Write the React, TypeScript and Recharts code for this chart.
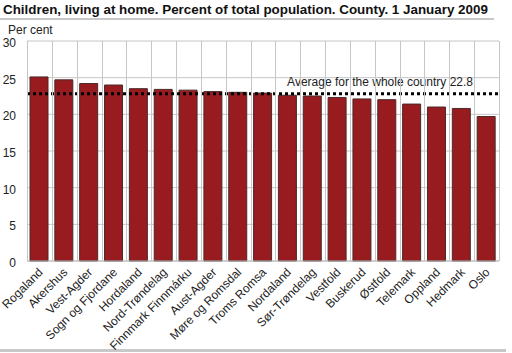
import { Bar, BarChart, CartesianGrid, ReferenceLine, XAxis, YAxis } from "recharts";

const COUNTIES = [
  "Rogaland",
  "Akershus",
  "Vest-Agder",
  "Sogn og Fjordane",
  "Hordaland",
  "Nord-Trøndelag",
  "Finnmark Finnmárku",
  "Aust-Agder",
  "Møre og Romsdal",
  "Troms Romsa",
  "Nordaland",
  "Sør-Trøndelag",
  "Vestfold",
  "Buskerud",
  "Østfold",
  "Telemark",
  "Oppland",
  "Hedmark",
  "Oslo",
];

const SHARE = [
  25.1, 24.7, 24.2, 24.0, 23.5, 23.4, 23.3, 23.1, 23.0, 22.9, 22.6, 22.5, 22.3,
  22.1, 22.0, 21.4, 21.0, 20.8, 19.7,
];

const Y_TICKS = [0, 5, 10, 15, 20, 25, 30];
const AVERAGE = 22.8;
const AVERAGE_LABEL = "Average for the whole country 22.8";
const TITLE =
  "Children, living at home. Percent of total population. County. 1 January 2009";

const FONT = "'Liberation Sans', Arial, sans-serif";
const GRID = "#c6c6c6";

// chart layout
const CHART_W = 512;
const CHART_H = 353;
const MARGIN = { top: 41, right: 13, left: 0, bottom: 0 };
const Y_AXIS_W = 27;
const X_AXIS_H = 92;
const PLOT_W = CHART_W - MARGIN.left - MARGIN.right - Y_AXIS_W;
const PLOT_H = CHART_H - MARGIN.top - MARGIN.bottom - X_AXIS_H;
const HALF_BAND = PLOT_W / COUNTIES.length / 2;

const data = COUNTIES.map((county, i) => ({ county, share: SHARE[i] }));

const crisp = (v: number) => Math.round(v) + 0.5;

// vertical grid sits on the band edges, between the bars
const bandEdges = ({ offset }: any) =>
  [...COUNTIES.map((_, i) => i), COUNTIES.length].map((i) =>
    crisp(offset.left + (i * offset.width) / COUNTIES.length),
  );

function CountyTick({ x, y, index, payload }: any) {
  const left = crisp(x - HALF_BAND);
  const right = crisp(x + HALF_BAND);
  return (
    <g>
      <line x1={left} x2={left} y1={y} y2={y - PLOT_H} stroke={GRID} />
      {index === COUNTIES.length - 1 && (
        <line x1={right} x2={right} y1={y} y2={y - PLOT_H} stroke={GRID} />
      )}
      <text
        x={x + 4}
        y={y + 12}
        transform={`rotate(-45, ${x + 4}, ${y + 12})`}
        textAnchor="end"
        fontSize={12}
        fill="#222"
        fontFamily={FONT}
      >
        {payload.value}
      </text>
    </g>
  );
}

function ValueTick({ x, y, payload }: any) {
  return (
    <text
      x={x}
      y={y + 6}
      textAnchor="end"
      fontSize={12}
      fill="#222"
      fontFamily={FONT}
    >
      {payload.value}
    </text>
  );
}

function AverageLabel({ viewBox }: any) {
  if (!viewBox) return null;
  return (
    <text
      x={viewBox.x + viewBox.width - 26}
      y={viewBox.y - 8}
      textAnchor="end"
      fontSize={12}
      fill="#222"
      fontFamily={FONT}
    >
      {AVERAGE_LABEL}
    </text>
  );
}

export default function App() {
  return (
    <div
      style={{
        position: "absolute",
        left: 0,
        top: 0,
        width: CHART_W,
        height: CHART_H,
        background: "#fff",
        fontFamily: FONT,
        overflow: "hidden",
      }}
    >
      <div
        style={{
          position: "absolute",
          left: 3,
          top: 2,
          fontSize: 13.4,
          fontWeight: "bold",
          color: "#111",
          whiteSpace: "nowrap",
        }}
      >
        {TITLE}
      </div>
      <div
        style={{
          position: "absolute",
          left: 0,
          top: 18,
          width: 494,
          height: 2,
          background: "#c8c8c8",
        }}
      />
      <div
        style={{
          position: "absolute",
          left: 8,
          top: 23,
          fontSize: 12,
          color: "#222",
        }}
      >
        Per cent
      </div>
      <div
        style={{
          position: "absolute",
          left: 0,
          top: 349,
          width: 506,
          height: 3,
          background: "#c8c8c8",
        }}
      />
      <div style={{ position: "absolute", left: 0, top: 0 }}>
        <BarChart width={CHART_W} height={CHART_H} data={data} margin={MARGIN}>
          <CartesianGrid
            stroke={GRID}
            verticalCoordinatesGenerator={bandEdges}
          />
          <XAxis
            dataKey="county"
            interval={0}
            height={X_AXIS_H}
            tick={<CountyTick />}
            tickSize={0}
            tickMargin={0}
            tickLine={false}
            axisLine={{ stroke: "#bbb" }}
          />
          <YAxis
            domain={[0, 30]}
            ticks={Y_TICKS}
            width={Y_AXIS_W}
            tickLine={false}
            axisLine={false}
            tickMargin={5}
            tick={<ValueTick />}
          />
          <Bar
            dataKey="share"
            fill="#971b1f"
            stroke="#4a2a2a"
            strokeWidth={1}
            barSize={18}
            isAnimationActive={false}
          />
          <ReferenceLine
            y={AVERAGE}
            stroke="#000"
            strokeWidth={3}
            strokeDasharray="3 3"
            label={<AverageLabel />}
          />
        </BarChart>
      </div>
    </div>
  );
}
